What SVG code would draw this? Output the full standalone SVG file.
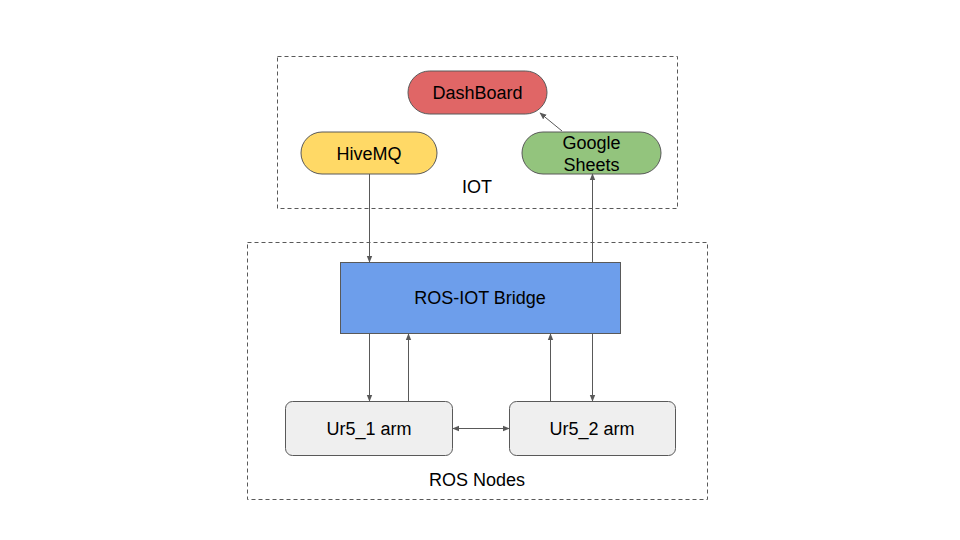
<svg xmlns="http://www.w3.org/2000/svg" width="960" height="540" viewBox="0 0 960 540">
<defs>
<marker id="ah" viewBox="0 0 10 10" refX="9" refY="5" markerWidth="7" markerHeight="7" markerUnits="userSpaceOnUse" orient="auto-start-reverse">
<path d="M0,1 L10,5 L0,9 Z" fill="#595959"/>
</marker>
<style>
text{font-family:"Liberation Sans",Arial,sans-serif;font-size:18px;fill:#000;text-anchor:middle;dominant-baseline:central}
.grp{fill:none;stroke:#595959;stroke-width:1;stroke-dasharray:4,3}
.node{stroke:#595959;stroke-width:1}
.c{fill:none;stroke:#595959;stroke-width:1;marker-end:url(#ah)}
</style>
</defs>
<rect width="960" height="540" fill="#fff"/>
<g id="iot">
<rect class="grp" x="277.5" y="56.5" width="400" height="152"/>
<text x="477" y="187">IOT</text>
</g>
<g id="ros">
<rect class="grp" x="247.5" y="242.5" width="460" height="257"/>
<text x="477" y="480">ROS Nodes</text>
</g>
<g id="dashboard">
<rect class="node" x="408" y="71" width="139" height="43" rx="21.5" fill="#e06666"/>
<text x="477.5" y="93">DashBoard</text>
</g>
<g id="hivemq">
<rect class="node" x="301" y="132" width="136" height="42" rx="21" fill="#ffd966"/>
<text x="369" y="154">HiveMQ</text>
</g>
<g id="sheets">
<rect class="node" x="522" y="132" width="139" height="42" rx="21" fill="#93c47d"/>
<text x="591.5" y="143">Google</text>
<text x="591.5" y="165">Sheets</text>
</g>
<g id="bridge">
<rect class="node" x="340.5" y="262.5" width="280" height="71" fill="#6d9eeb"/>
<text x="480" y="298">ROS-IOT Bridge</text>
</g>
<g id="ur5_1">
<rect class="node" x="285.5" y="401.5" width="167" height="54" rx="7" fill="#efefef"/>
<text x="369" y="429">Ur5_1 arm</text>
</g>
<g id="ur5_2">
<rect class="node" x="509.5" y="401.5" width="166" height="54" rx="7" fill="#efefef"/>
<text x="592" y="429">Ur5_2 arm</text>
</g>
<g id="connectors">
<line class="c" x1="562" y1="131" x2="540" y2="113"/>
<line class="c" x1="369.5" y1="174" x2="369.5" y2="262"/>
<line class="c" x1="592.5" y1="262" x2="592.5" y2="174"/>
<line class="c" x1="369.5" y1="334" x2="369.5" y2="401"/>
<line class="c" x1="408.5" y1="401" x2="408.5" y2="334"/>
<line class="c" x1="550.5" y1="401" x2="550.5" y2="334"/>
<line class="c" x1="592.5" y1="334" x2="592.5" y2="401"/>
<line class="c" x1="453" y1="428.5" x2="509" y2="428.5" marker-start="url(#ah)"/>
</g>
</svg>
